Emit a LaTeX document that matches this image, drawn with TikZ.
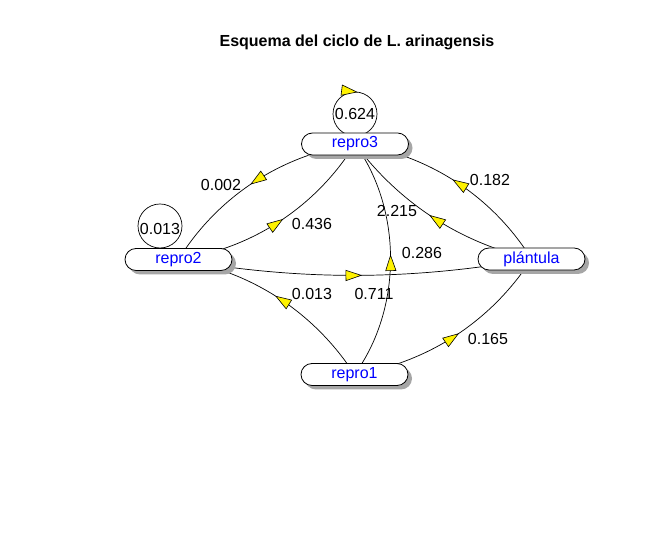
\documentclass[tikz,border=0pt]{standalone}
\usepackage{fontspec}
\setmainfont{Liberation Sans}
\usetikzlibrary{shapes.misc,shadows,arrows.meta,decorations.markings,backgrounds}
\begin{document}
\begin{tikzpicture}[x=1pt,y=1pt,
  stage/.style={rounded rectangle, draw=black, line width=0.8pt, fill=white,
    minimum width=107pt, minimum height=22pt, inner sep=0pt, text=blue,
    font=\fontsize{16}{19}\selectfont,
    drop shadow={shadow xshift=4pt, shadow yshift=-4pt, fill=black!35, opacity=1}},
  lab/.style={font=\fontsize{16}{19}\selectfont, inner sep=0pt},
  plainline/.style={draw=black, line width=0.7pt},
  edge/.style={plainline, postaction={decorate},
    decoration={markings, mark=at position 0.52 with {\arrow[line width=0.6pt]{Triangle[length=16.5pt,width=11pt,fill=yellow]}}}},
]
\useasboundingbox (0,0) rectangle (672,537);
% nodes
\node[stage] (repro3) at (355,393) {repro3};
\node[stage] (repro2) at (178.5,277.5) {repro2};
\node[stage] (plant) at (531.5,278) {plántula};
\node[stage] (repro1) at (354.5,162.5) {repro1};
\coordinate (loop3) at (355,423);
\coordinate (loop2) at (160,311);
% title
\node[font=\bfseries\fontsize{16}{19}\selectfont, anchor=base] (title) at (357,490) {Esquema del ciclo de L. arinagensis};
% edges
\begin{pgfonlayer}{background}
\fill[white] (0,0) rectangle (672,537);
\draw[edge] ([yshift=-22pt]loop3) arc[start angle=270, end angle=-90, radius=22];
\draw[plainline] (loop2) circle[radius=22];
\draw[edge] (repro3.center) to[bend right=25, looseness=0.9] (repro2.center);
\draw[edge] (repro2.center) to[bend right=25, looseness=0.9] (repro3.center);
\draw[edge] (plant.center) to[bend right=25, looseness=0.9] (repro3.center);
\draw[edge] (plant.center) to[bend left=20, looseness=0.9] (repro3.center);
\draw[edge] (repro1.center) to[bend right=36, looseness=0.9] (repro3.center);
\draw[edge] (repro2.center) to[bend right=10, looseness=0.9] (plant.center);
\draw[edge] (repro1.center) to[bend right=24, looseness=0.9] (repro2.center);
\draw[edge] (repro1.center) to[bend right=24, looseness=0.9] (plant.center);
\end{pgfonlayer}
% labels
\node[lab] (t1) at (355,423) {0.624};
\node[lab] (t2) at (160,308) {0.013};
\node[lab] (t3) at (221,352) {0.002};
\node[lab] (t4) at (312,313) {0.436};
\node[lab] (t5) at (490,357) {0.182};
\node[lab] (t6) at (397,326) {2.215};
\node[lab] (t7) at (422,284) {0.286};
\node[lab] (t8) at (312,243) {0.013};
\node[lab] (t9) at (374,243) {0.711};
\node[lab] (t10) at (488,198) {0.165};
\end{tikzpicture}
\end{document}
